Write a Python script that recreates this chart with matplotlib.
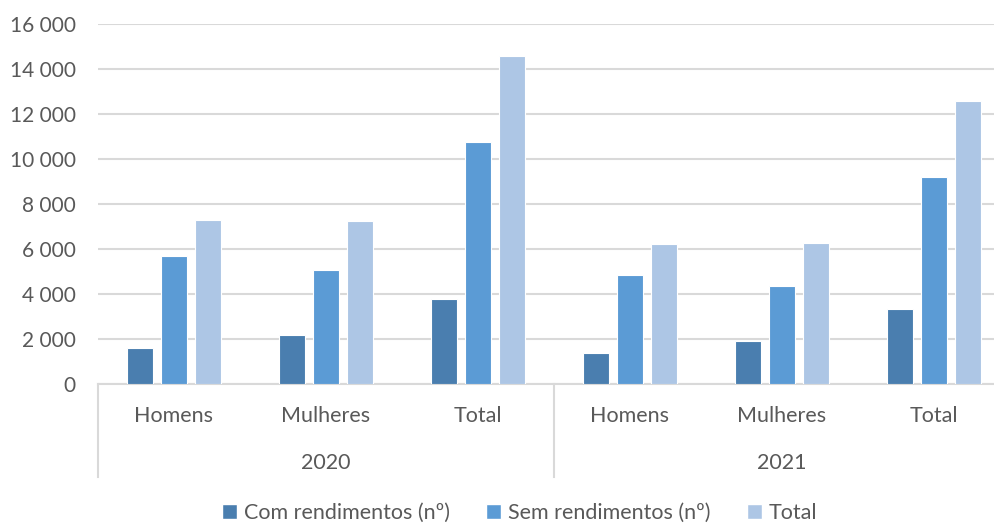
import matplotlib
matplotlib.use('Agg')
import matplotlib.pyplot as plt
from matplotlib.patches import Patch
import numpy as np

# Data
years = ['2020', '2021']
groups = ['Homens', 'Mulheres', 'Total']
series = ['Com rendimentos (nº)', 'Sem rendimentos (nº)', 'Total']
com = [1600, 2170, 3790, 1390, 1905, 3335]
sem = [5680, 5075, 10750, 4835, 4345, 9200]
tot = [7290, 7260, 14550, 6240, 6285, 12555]
colors = ['#4A7EAF', '#5B9BD5', '#ADC6E5']
text_c = '#595959'

plt.rcParams['font.family'] = ['Lato', 'DejaVu Sans']

fig = plt.figure(figsize=(9.95, 5.23), dpi=100)
ax = fig.add_axes([98/995, (523-384.3)/523, 912/995, 360.6/523])

x = np.arange(6) + 0.5
w, pitch = 0.172, 0.222
for k, (vals, col) in enumerate(zip([com, sem, tot], colors)):
    ax.bar(x + (k - 1)*pitch, vals, width=w, color=col, edgecolor='white',
           linewidth=0.8, zorder=3)

ax.set_xlim(0, 6)
ax.set_ylim(0, 16000)
ax.set_yticks(range(0, 16001, 2000))
ax.set_yticklabels(['{:,}'.format(v).replace(',', ' ') for v in range(0, 16001, 2000)])
ax.tick_params(axis='y', length=0, pad=16, labelsize=15, labelcolor=text_c)
ax.tick_params(axis='x', length=0, labelbottom=False)
ax.yaxis.grid(True, color='#D9D9D9', linewidth=1.5, zorder=0)
for s in ['left', 'right', 'top']:
    ax.spines[s].set_visible(False)
ax.spines['bottom'].set_color('#D9D9D9')
ax.spines['bottom'].set_linewidth(1.5)

# category labels
tr = ax.get_xaxis_transform()
hpx = 360.6
for i in range(6):
    ax.text(x[i], -32/hpx, groups[i % 3], transform=tr, ha='center', va='center',
            fontsize=15.5, color=text_c)
for j, yr in enumerate(years):
    ax.text(1.5 + 3*j, -79/hpx, yr, transform=tr, ha='center', va='center',
            fontsize=15.5, color=text_c)
for xs in [0, 3, 6]:
    ax.plot([xs, xs], [0, -93/hpx], transform=tr, color='#D9D9D9', lw=1.5,
            clip_on=False)

handles = [Patch(facecolor=c, edgecolor='white') for c in colors]
fig.legend(handles, series, loc='center', bbox_to_anchor=(0.522, 10/523), ncol=3,
           frameon=False, fontsize=15.5, handlelength=0.7, handleheight=0.7,
           handletextpad=0.3, columnspacing=1.7, labelcolor=text_c)

fig.savefig('out.png', dpi=100)
